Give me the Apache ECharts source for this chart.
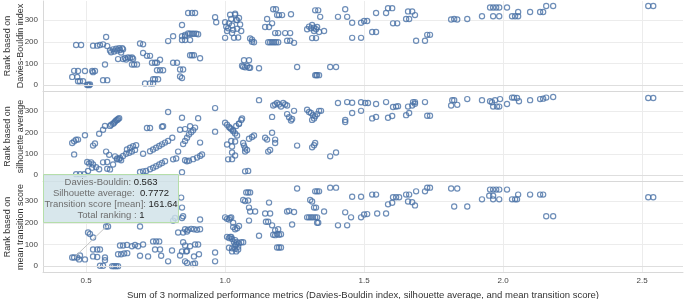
<!DOCTYPE html>
<html><head><meta charset="utf-8">
<script src="https://cdn.jsdelivr.net/npm/echarts@6/dist/echarts.min.js"></script>
<style>html,body{margin:0;padding:0;background:#fff}#c{width:685px;height:299px}</style>
</head><body><div id="c"></div>
<script>
const xTicks = [0.5, 1.0, 1.5, 2.0, 2.5];
const yTicks = [0, 100, 200, 300];
const panelTitles = ['Rank based on\nDavies-Bouldin index', 'Rank based on\nsilhouette average', 'Rank based on\nmean transition score'];
const xTitle = 'Sum of 3 normalized performance metrics (Davies-Bouldin index, silhouette average, and mean transition score)';

const dbPoints = [
[0.450,38],[0.468,38],[0.457,66],[0.471,65],[0.464,185],[0.482,185],[0.471,18],[0.478,18],[0.489,18],
[0.504,1],[0.507,2],[0.511,0],[0.514,3],[0.496,65],[0.522,65],[0.525,60],[0.532,65],
[0.525,182],[0.540,182],[0.550,185],[0.561,188],[0.561,23],[0.576,23],[0.568,95],[0.572,222],[0.576,180],
[0.586,160],[0.590,152],[0.597,165],[0.601,155],[0.608,168],[0.612,160],[0.619,170],[0.622,162],[0.626,150],[0.630,170],[0.633,165],
[0.615,120],[0.633,120],[0.640,125],[0.644,118],[0.651,128],[0.658,125],[0.665,128],[0.669,122],
[0.665,95],[0.673,95],[0.683,95],[0.694,192],[0.705,188],[0.705,148],
[0.712,8],[0.730,8],[0.741,8],[0.719,135],[0.730,135],[0.737,103],[0.748,103],[0.755,103],
[0.741,27],[0.748,27],[0.759,27],[0.755,69],[0.766,69],[0.777,69],[0.766,117],
[0.795,203],[0.813,226],[0.813,103],[0.827,103],[0.838,40],[0.845,33],[0.849,72],[0.838,72],
[0.845,277],[0.845,226],[0.856,226],[0.845,208],[0.856,208],[0.874,208],[0.856,232],[0.867,238],
[0.867,333],[0.881,333],[0.892,333],[0.874,237],[0.881,237],[0.888,237],[0.896,237],[0.903,235],
[0.874,138],[0.881,138],[0.888,138],[0.910,124],[0.964,313],[0.968,290],
[1.000,290],[1.004,270],[1.007,250],[1.011,262],[1.014,285],[1.018,325],[1.022,305],[1.025,275],[1.029,255],[1.032,218],[1.036,330],[1.040,300],[1.043,260],[1.047,220],[1.050,310],[1.054,280],[1.000,218],[1.058,250],[1.036,325],[1.043,300],[1.025,240],
[1.090,215],[1.097,200],[1.104,198],[1.097,210],[1.068,115],[1.086,115],
[1.061,90],[1.065,85],[1.072,82],[1.079,88],[1.086,80],[1.090,80],[1.122,78],
[1.144,268],[1.151,305],[1.158,268],[1.169,285],
[1.155,198],[1.162,198],[1.169,198],[1.176,198],[1.183,198],[1.191,198],
[1.173,350],[1.183,350],[1.187,323],[1.194,323],[1.205,323],[1.180,240],[1.191,240],[1.216,240],[1.234,240],[1.223,205],[1.234,205],[1.237,327],[1.248,195],[1.259,84],
[1.295,258],[1.302,270],[1.309,262],[1.313,277],[1.320,265],[1.327,258],[1.331,268],[1.338,245],[1.320,250],
[1.313,217],[1.327,217],[1.324,345],[1.335,345],[1.342,315],
[1.324,46],[1.328,46],[1.331,46],[1.338,46],[1.356,250],[1.378,84],[1.399,84],[1.406,315],[1.432,350],[1.439,315],
[1.457,288],[1.457,218],[1.489,288],[1.489,218],[1.500,296],[1.511,296],[1.529,245],[1.543,245],[1.543,333],
[1.579,333],[1.586,355],[1.601,355],[1.604,285],[1.619,285],[1.651,305],[1.662,305],[1.658,340],[1.673,340],[1.683,323],
[1.687,205],[1.719,205],[1.727,232],[1.737,232],[1.813,303],[1.824,305],[1.835,303],
[1.871,305],[1.924,318],[1.953,358],[1.964,358],[1.975,358],[1.986,358],[1.964,318],[1.986,318],[2.014,358],
[2.032,318],[2.043,318],[2.054,318],[2.054,337],[2.097,337],[2.133,337],[2.144,337],[2.155,365],[2.180,365],[2.522,365],[2.540,365]
];

const silPoints = [
[0.450,150],[0.457,158],[0.464,165],[0.457,97],[0.471,166],[0.464,5],[0.478,5],[0.493,5],[0.496,186],
[0.504,62],[0.511,55],[0.518,60],[0.525,50],[0.507,20],[0.522,35],[0.525,138],[0.532,148],[0.536,37],[0.547,28],[0.547,193],
[0.561,212],[0.568,230],[0.561,60],[0.576,62],[0.583,95],[0.572,110],[0.576,30],[0.586,27],
[0.586,230],[0.590,235],[0.597,240],[0.601,245],[0.604,250],[0.608,255],[0.612,258],[0.615,262],[0.619,266],
[0.604,88],[0.612,78],[0.619,75],[0.626,70],[0.597,50],
[0.611,74],[0.622,80],[0.633,90],[0.644,100],[0.655,105],[0.665,110],[0.676,118],
[0.647,120],[0.658,128],[0.669,135],[0.680,140],[0.705,100],[0.719,220],[0.730,220],
[0.694,15],[0.705,18],[0.716,20],
[0.730,112],[0.741,120],[0.752,128],[0.763,136],[0.773,144],[0.784,152],[0.795,160],
[0.730,28],[0.741,35],[0.752,42],[0.763,50],[0.773,57],[0.784,65],
[0.773,226],[0.777,228],[0.795,295],[0.810,175],[0.813,74],[0.824,78],[0.831,110],
[0.845,268],[0.845,14],[0.838,212],
[0.849,145],[0.856,160],[0.863,175],[0.870,190],[0.878,200],[0.885,210],[0.892,222],[0.856,215],[0.874,228],
[0.863,65],[0.856,70],[0.870,68],[0.885,75],[0.899,82],[0.910,90],[0.917,97],[0.903,266],[0.910,152],
[0.964,313],[0.964,203],
[1.000,245],[1.007,235],[1.014,225],[1.022,215],[1.029,205],[1.036,195],[1.043,185],[1.050,240],[1.007,143],[1.022,160],
[1.011,74],[1.025,75],[1.025,106],
[1.018,220],[1.029,210],[1.040,230],[1.050,240],[1.058,258],[1.061,265],[1.036,157],[1.025,134],[1.036,92],
[1.065,150],[1.068,138],[1.072,125],[1.079,118],[1.072,110],[1.072,18],[1.083,20],[1.086,170],[1.097,178],[1.104,185],
[1.122,350],[1.144,175],[1.151,166],[1.155,110],[1.162,118],[1.169,198],[1.169,272],
[1.173,325],[1.180,330],[1.187,337],[1.194,330],[1.201,320],[1.209,337],[1.216,330],[1.223,325],
[1.180,166],[1.180,150],[1.223,285],[1.230,270],[1.237,255],[1.241,262],[1.248,300],[1.259,138],
[1.295,305],[1.302,295],[1.309,290],[1.316,280],[1.324,275],[1.331,285],[1.338,300],[1.320,265],[1.313,258],[1.345,300],
[1.313,130],[1.320,140],[1.324,150],[1.378,88],[1.399,106],[1.406,337],[1.432,258],[1.432,248],[1.439,341],[1.457,338],[1.457,290],
[1.489,340],[1.504,337],[1.514,337],[1.489,300],[1.529,265],[1.543,272],[1.543,332],[1.579,341],[1.586,268],[1.601,276],
[1.604,318],[1.615,320],[1.622,322],[1.651,280],[1.662,290],[1.658,320],[1.673,325],[1.676,341],[1.683,341],[1.683,333],
[1.719,341],[1.727,277],[1.737,277],[1.813,325],[1.824,350],[1.835,328],
[1.817,350],[1.871,355],[1.924,350],[1.953,345],[1.960,340],[1.964,320],[1.971,350],[1.978,320],[1.986,320],[1.989,355],
[2.014,332],[2.032,362],[2.039,362],[2.050,360],[2.057,345],[2.097,350],[2.133,355],[2.144,357],[2.155,362],[2.180,365],[2.522,360],[2.540,360]
];

const transPoints = [
[0.457,40],[0.450,40],[0.468,40],[0.478,49],[0.475,31],[0.496,31],[0.507,155],[0.514,148],[0.525,132],
[0.525,77],[0.540,77],[0.550,77],[0.525,45],[0.540,42],[0.550,2],[0.561,2],[0.568,40],[0.568,27],[0.572,183],[0.579,183],
[0.594,0],[0.601,0],[0.608,0],[0.615,0],[0.622,95],[0.633,95],[0.615,55],[0.626,55],[0.637,58],[0.648,60],
[0.647,98],[0.665,92],[0.676,98],[0.687,92],[0.694,183],[0.694,48],[0.705,100],[0.723,45],
[0.741,114],[0.752,114],[0.763,114],[0.748,77],[0.766,77],[0.770,48],[0.795,22],[0.809,72],[0.813,210],[0.820,222],[0.845,222],
[0.831,155],[0.849,155],[0.838,49],[0.845,68],[0.860,68],[0.849,110],[0.856,22],
[0.842,316],[0.845,270],[0.849,230],[0.856,170],[0.867,168],[0.878,172],[0.888,170],[0.899,168],[0.910,170],[0.863,160],
[0.856,95],[0.874,92],[0.863,70],[0.863,15],[0.885,10],[0.892,12],[0.888,45],[0.892,100],[0.903,100],[0.910,215],[0.906,55],
[0.964,22],[0.964,63],
[1.000,225],[1.007,218],[1.014,215],[1.022,225],[1.029,180],[1.036,170],[1.043,175],[1.050,185],[1.007,135],[1.014,130],[1.022,135],[1.036,120],[1.043,110],[1.050,105],[1.014,85],[1.025,82],[1.036,95],[1.047,90],[1.040,68],[1.025,68],
[1.018,222],[1.029,200],[1.018,135],[1.025,125],[1.032,110],[1.040,100],[1.036,80],[1.047,77],[1.058,110],[1.065,110],
[1.076,340],[1.083,340],[1.090,340],[1.065,305],[1.072,300],[1.083,303],[1.086,270],[1.090,252],[1.108,252],[1.086,210],
[1.122,140],[1.144,243],[1.162,243],[1.147,205],[1.155,205],[1.158,293],[1.169,188],
[1.173,145],[1.180,143],[1.187,148],[1.194,145],[1.201,147],[1.180,165],[1.191,170],[1.187,86],[1.194,86],[1.201,86],
[1.223,252],[1.230,255],[1.248,250],[1.241,192],[1.259,358],
[1.295,225],[1.302,225],[1.309,225],[1.316,225],[1.324,225],[1.331,225],[1.306,305],[1.313,298],[1.320,270],[1.327,270],
[1.324,345],[1.331,345],[1.338,345],[1.331,200],[1.335,200],[1.356,252],[1.378,362],[1.399,362],[1.406,188],[1.432,248],[1.439,188],[1.453,225],[1.457,320],
[1.489,320],[1.489,225],[1.500,238],[1.511,240],[1.529,330],[1.543,330],[1.547,243],[1.579,243],[1.586,285],[1.601,292],
[1.604,318],[1.615,318],[1.626,318],[1.651,330],[1.662,330],[1.658,298],[1.673,295],[1.683,280],[1.687,345],[1.719,345],[1.727,362],[1.737,362],
[1.813,358],[1.824,275],[1.835,358],[1.871,275],[1.924,308],[1.953,353],[1.964,353],[1.975,353],[1.986,353],[1.950,325],[1.964,325],[1.964,308],[1.986,308],
[2.014,353],[2.032,308],[2.043,308],[2.050,308],[2.054,330],[2.097,330],[2.133,330],[2.144,330],[2.155,230],[2.180,230],[2.522,318],[2.540,318]
];

const tipLabels = ['Davies-Bouldin: ', 'Silhouette average:  ', 'Transition score [mean]: ', 'Total ranking : '];
const tipValues = ['0.563', '0.7772', '161.64', '1'];
const hoveredPoint = transPoints[0];

const FONT = '"Liberation Sans", Arial, Helvetica, sans-serif';
const MARK = '#4a72a6';
const GRIDC = '#ececec';
const panels = [dbPoints, silPoints, transPoints];
const tops = [1, 92, 182];
const heights = [90, 89, 90];

const chart = echarts.init(document.getElementById('c'), null, {renderer: 'canvas'});

const option = {
  animation: false,
  backgroundColor: '#fff',
  grid: tops.map((t, i) => ({left: 43, right: 2, top: t, height: heights[i], containLabel: false, outerBoundsMode: 'none'})),
  xAxis: tops.map((t, i) => ({
    type: 'value', gridIndex: i, min: 0.345, max: 2.647,
    axisLine: {show: true, onZero: false, lineStyle: {color: '#d8d8d8'}},
    axisTick: {show: false, customValues: xTicks},
    axisLabel: {show: i === 2, customValues: xTicks, formatter: v => v.toFixed(1), fontSize: 8, color: '#444', margin: 5, fontFamily: FONT},
    splitLine: {show: true, lineStyle: {color: GRIDC, width: 1}},
    name: i === 2 ? xTitle : '', nameLocation: 'middle', nameGap: 18, nameMoveOverlap: false,
    nameTextStyle: {fontSize: 9.5, color: '#333', fontFamily: FONT}
  })),
  yAxis: tops.map((t, i) => ({
    type: 'value', gridIndex: i, min: -27, max: 388,
    axisLine: {show: true, lineStyle: {color: '#d8d8d8'}},
    axisTick: {show: false, customValues: yTicks},
    axisLabel: {customValues: yTicks, fontSize: 8, color: '#444', margin: 5, fontFamily: FONT},
    splitLine: {show: true, lineStyle: {color: GRIDC, width: 1}},
    name: panelTitles[i], nameLocation: 'middle', nameGap: 16, nameRotate: 90, nameMoveOverlap: false,
    nameTextStyle: {fontSize: 9, color: '#333', lineHeight: 13, fontFamily: FONT}
  })),
  series: panels.map((d, i) => ({
    type: 'scatter', xAxisIndex: i, yAxisIndex: i, data: d, silent: true,
    symbol: 'circle', symbolSize: 5.2,
    itemStyle: {color: 'rgba(0,0,0,0)', borderColor: MARK, borderWidth: 1.2},
    markLine: {silent: true, symbol: 'none', label: {show: false},
      lineStyle: {color: '#dedede', width: 1, type: 'solid'}, data: [{yAxis: 0}]}
  }))
};
chart.setOption(option);

const p = chart.convertToPixel({xAxisIndex: 2, yAxisIndex: 2}, hoveredPoint);
const box = {x: 43, y: 174, w: 135, h: 48};
const richText = tipLabels.map((l, i) => '{l|' + l + '}{v|' + tipValues[i] + '}').join('\n');
chart.setOption({
  graphic: [
    {type: 'line', silent: true, z: 100, shape: {x1: p[0], y1: p[1], x2: box.x + 68, y2: box.y + box.h}, style: {stroke: '#c4c4c4', lineWidth: 1}},
    {type: 'rect', silent: true, z: 101, shape: {x: box.x + 0.5, y: box.y + 0.5, width: box.w, height: box.h},
      style: {fill: 'rgba(208,226,232,0.82)', stroke: '#b5deaa', lineWidth: 1}},
    {type: 'text', silent: true, z: 102, x: box.x + box.w / 2 + 0.5, y: box.y + 2.5,
      style: {text: richText, align: 'center', verticalAlign: 'top', fontFamily: FONT, fontSize: 9.5, lineHeight: 11,
        rich: {
          l: {fill: '#6e6e6e', color: '#6e6e6e', fontSize: 9.5, lineHeight: 11, fontFamily: FONT},
          v: {fill: '#1e1e1e', color: '#1e1e1e', fontSize: 9.5, lineHeight: 11, fontFamily: FONT}
        }}}
  ]
});
</script></body></html>
